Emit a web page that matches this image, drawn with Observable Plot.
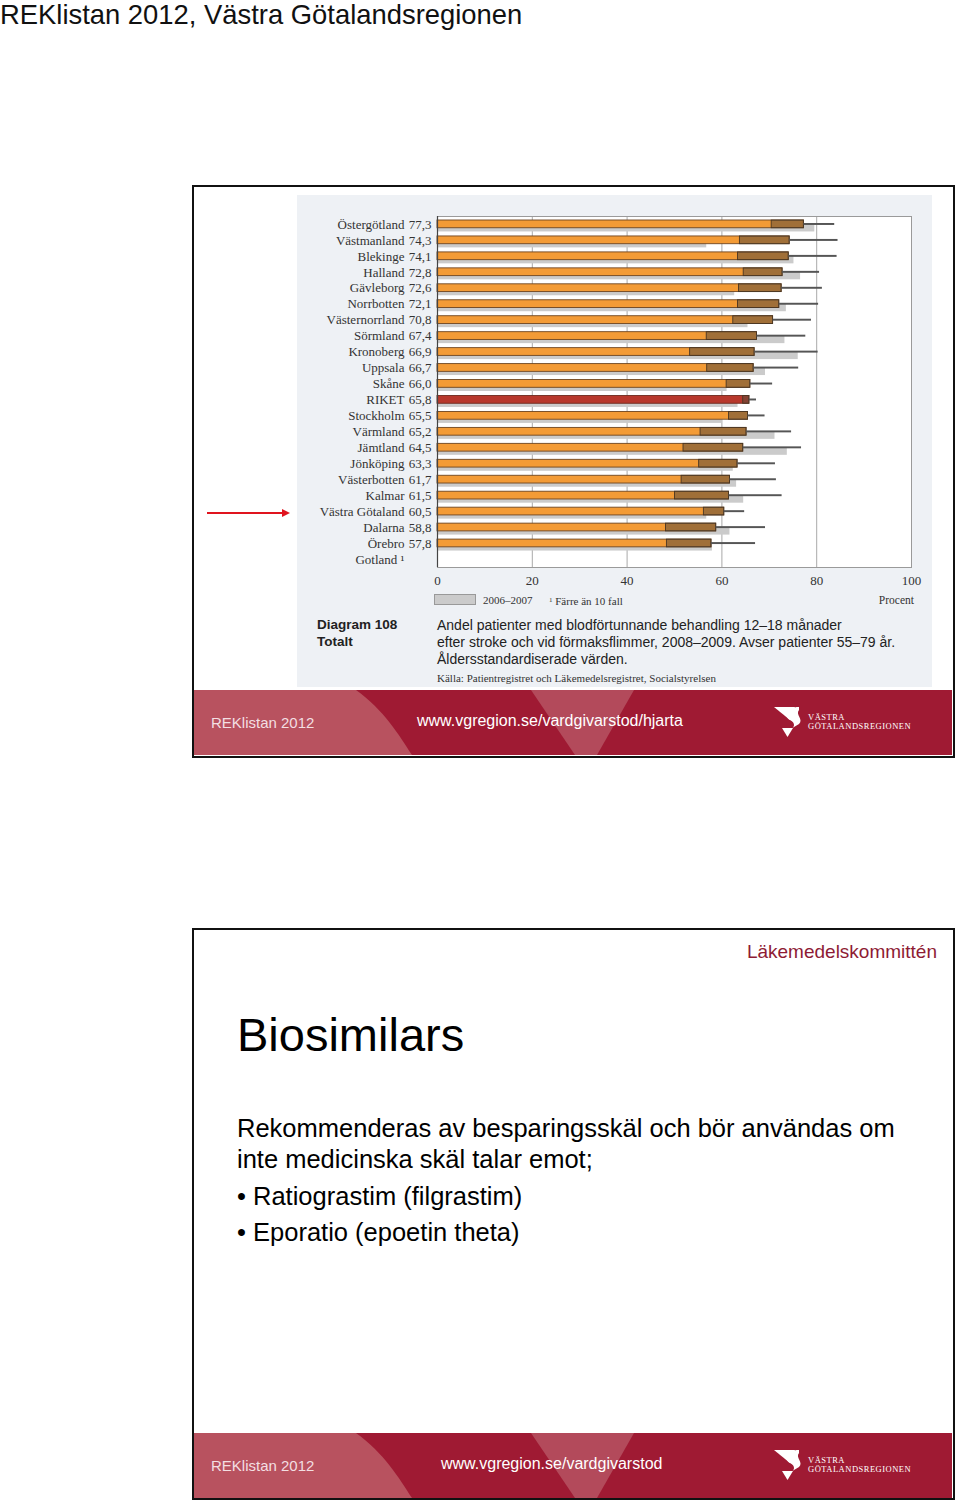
<!DOCTYPE html>
<html>
<head>
<meta charset="utf-8">
<script src="https://cdn.jsdelivr.net/npm/d3@7"></script>
<script src="https://cdn.jsdelivr.net/npm/@observablehq/plot@0.6"></script>
<style>
  html, body { margin: 0; padding: 0; background: #fff; }
  body { position: relative; width: 960px; height: 1505px; overflow: hidden; font-family: "Liberation Sans", Arial, sans-serif; }
  .abs { position: absolute; white-space: nowrap; }
  .slide { position: absolute; box-sizing: border-box; border: 2px solid #111; background: #fff; }
  .serif { font-family: "Liberation Serif", "Times New Roman", serif; }
</style>
</head>
<body>
<script>
// ---- data ----
const regions = ["Östergötland","Västmanland","Blekinge","Halland","Gävleborg","Norrbotten","Västernorrland","Sörmland","Kronoberg","Uppsala","Skåne","RIKET","Stockholm","Värmland","Jämtland","Jönköping","Västerbotten","Kalmar","Västra Götaland","Dalarna","Örebro","Gotland ¹"];
const values2008 = [77.3,74.3,74.1,72.8,72.6,72.1,70.8,67.4,66.9,66.7,66.0,65.8,65.5,65.2,64.5,63.3,61.7,61.5,60.5,58.8,57.8,null];
const ciLower = [70.5,63.8,63.4,64.6,63.6,63.4,62.4,56.8,53.3,56.9,61.0,64.5,61.5,55.5,51.9,55.2,51.5,50.1,56.2,48.2,48.4,null];
const ciUpper = [83.8,84.5,84.3,80.6,81.2,80.4,78.9,77.7,80.3,76.2,70.7,67.3,69.1,74.7,76.8,71.3,71.5,72.7,64.8,69.2,67.1,null];
const values2006 = [79.6,56.8,75.2,76.6,62.7,73.6,65.5,73.3,76.1,69.2,61.1,63.4,60.0,71.2,73.8,62.4,63.1,64.6,56.8,61.7,58.0,null];
const xTicks = [0,20,40,60,80,100];
const highlight = "RIKET";

const rows = regions.map((r, i) => ({region: r, value: values2008[i], lo: ciLower[i], hi: ciUpper[i], prev: values2006[i]}));
const withData = rows.filter(d => d.value != null);
const normal = withData.filter(d => d.region !== highlight);
const riket = withData.filter(d => d.region === highlight);

function el(tag, cls, style, html) {
  const e = document.createElement(tag);
  if (cls) e.className = cls;
  Object.assign(e.style, style);
  if (html != null) e.innerHTML = html;
  document.body.appendChild(e);
  return e;
}
function txt(text, left, cy, size, opts = {}) {
  const lh = Math.round(size * 1.3);
  const e = el("div", "abs" + (opts.serif ? " serif" : ""), {
    left: left + "px", top: (cy - lh / 2) + "px", fontSize: size + "px", lineHeight: lh + "px",
    color: opts.color || "#000", fontWeight: opts.bold ? "bold" : "normal",
    letterSpacing: opts.ls || "normal"
  });
  e.textContent = text;
  if (opts.right != null) { e.style.left = "auto"; e.style.right = (960 - opts.right) + "px"; }
  return e;
}

// page title
txt("REKlistan 2012, Västra Götalandsregionen", 0, 15, 27.4, {color: "#111"});

// slides
el("div", "slide", {left: "192px", top: "185px", width: "763px", height: "573px"});
el("div", "slide", {left: "192px", top: "928px", width: "763px", height: "572px"});

// chart image background
el("div", "", {position: "absolute", left: "297px", top: "195px", width: "635px", height: "492px", background: "#eef1f5"});

// footers
function footer(top, url, urlX) {
  const ns = "http://www.w3.org/2000/svg";
  const svg = document.createElementNS(ns, "svg");
  svg.setAttribute("width", 758); svg.setAttribute("height", 65);
  svg.style.position = "absolute"; svg.style.left = "194px"; svg.style.top = top + "px";
  svg.innerHTML = `
    <rect x="0" y="0" width="758" height="65" fill="#9f1a33"/>
    <path d="M0,0 L162,0 C190,20 205,45 218,65 L0,65 Z" fill="#b8525f"/>
    <path d="M337,0 L440,0 L403,65 L381,65 Z" fill="#b34a5b"/>
    <g fill="#fff">
      <path d="M580,17 L601,17 L596,30 Z"/>
      <path d="M605,17 C592,17 589,26 596,30 C602,33 601,38 595,40 L605,34 C610,29 601,25 605,20 Z"/>
      <path d="M588,38 L599,38 L593.5,47 Z"/>
    </g>`;
  document.body.appendChild(svg);
  txt("REKlistan 2012", 211, top + 33, 15, {color: "#f3dfe2"});
  txt(url, urlX, top + 30, 16, {color: "#fff"});
  txt("VÄSTRA", 808, top + 27, 8.5, {color: "#fff", serif: true, ls: "0.5px"});
  txt("GÖTALANDSREGIONEN", 808, top + 36, 8.5, {color: "#fff", serif: true, ls: "0.5px"});
}
footer(690, "www.vgregion.se/vardgivarstod/hjarta", 417);
footer(1433, "www.vgregion.se/vardgivarstod", 441);

// red arrow
(function () {
  const ns = "http://www.w3.org/2000/svg";
  const svg = document.createElementNS(ns, "svg");
  svg.setAttribute("width", 100); svg.setAttribute("height", 20);
  svg.style.position = "absolute"; svg.style.left = "200px"; svg.style.top = "503px";
  svg.innerHTML = `<line x1="7" y1="10" x2="83" y2="10" stroke="#e0141e" stroke-width="2"/>
    <polygon points="82,6 90,10 82,14" fill="#e0141e"/>`;
  document.body.appendChild(svg);
})();

// ---- the chart ----
const chart = Plot.plot({
  width: 635,
  height: 387,
  marginLeft: 140,
  marginRight: 21,
  marginTop: 11,
  marginBottom: 25,
  x: {domain: [0, 100], ticks: xTicks, tickSize: 0, tickPadding: 8, label: null, tickFormat: d => String(d)},
  y: {domain: regions, axis: null, paddingInner: 0, paddingOuter: 0, round: false},
  style: {fontFamily: "'Liberation Serif', 'Times New Roman', serif", fontSize: "13px", color: "#333", background: "transparent", overflow: "visible"},
  marks: [
    Plot.frame({fill: "#fff", stroke: null}),
    Plot.ruleX([20, 40, 60, 80], {stroke: "#a9a9a9", strokeWidth: 1}),
    Plot.barX(withData, {y: "region", x: "prev", fill: "#cbcbcb", insetTop: 8, insetBottom: 0.5}),
    Plot.barX(normal, {y: "region", x: "value", fill: "#f39b36", stroke: "#6e4520", strokeWidth: 0.9, insetTop: 4, insetBottom: 4.2}),
    Plot.barX(riket, {y: "region", x: "value", fill: "#b8382c", stroke: "#6e2a1e", strokeWidth: 0.9, insetTop: 4, insetBottom: 4.2}),
    Plot.barX(withData, {y: "region", x1: "lo", x2: "value", fill: "#5b4a3a", fillOpacity: 0.55, stroke: "#4a3622", strokeWidth: 0.9, insetTop: 4, insetBottom: 4.2}),
    Plot.barX(withData, {y: "region", x1: "value", x2: "hi", fill: "#555", insetTop: 7, insetBottom: 7}),
    Plot.frame({stroke: "#9a9a9a", strokeWidth: 1}),
    Plot.ruleX([0], {stroke: "#444", strokeWidth: 1.2}),
    Plot.text(rows, {y: "region", text: "region", frameAnchor: "left", dx: -33, textAnchor: "end", fill: "#333"}),
    Plot.text(rows, {y: "region", text: d => d.value == null ? "" : d.value.toFixed(1).replace(".", ","), frameAnchor: "left", dx: -6, textAnchor: "end", fill: "#333"})
  ]
});
chart.style.position = "absolute";
chart.style.left = "297px";
chart.style.top = "205px";
document.body.appendChild(chart);

// legend & notes under chart
el("div", "", {position: "absolute", left: "434px", top: "594px", width: "42px", height: "11px", background: "#cbcbcb", border: "1px solid #999", boxSizing: "border-box"});
txt("2006–2007", 483, 600, 11, {serif: true, color: "#333"});
const fn = txt("", 549, 600, 11, {serif: true, color: "#333"});
fn.innerHTML = '<span style="font-size:7px;vertical-align:3px">1</span> Färre än 10 fall';
txt("Procent", 0, 600, 11.5, {serif: true, color: "#333", right: 914});

txt("Diagram 108", 317, 625, 13.5, {bold: true, color: "#222"});
txt("Totalt", 317, 642, 13.5, {bold: true, color: "#222"});
txt("Andel patienter med blodförtunnande behandling 12–18 månader", 437, 625, 14, {color: "#222"});
txt("efter stroke och vid förmaksflimmer, 2008–2009. Avser patienter 55–79 år.", 437, 642, 14, {color: "#222"});
txt("Åldersstandardiserade värden.", 437, 659, 14, {color: "#222"});
txt("Källa: Patientregistret och Läkemedelsregistret, Socialstyrelsen", 437, 678, 11, {serif: true, color: "#333"});

// slide 2 text
txt("Läkemedelskommittén", 0, 951, 19, {color: "#8e1b34", right: 937});
txt("Biosimilars", 237, 1034, 47, {color: "#000"});
txt("Rekommenderas av besparingsskäl och bör användas om", 237, 1128, 25.5, {color: "#000"});
txt("inte medicinska skäl talar emot;", 237, 1159, 25.5, {color: "#000"});
txt("• Ratiograstim (filgrastim)", 237, 1196, 25.5, {color: "#000"});
txt("• Eporatio (epoetin theta)", 237, 1232, 25.5, {color: "#000"});
</script>
</body>
</html>
